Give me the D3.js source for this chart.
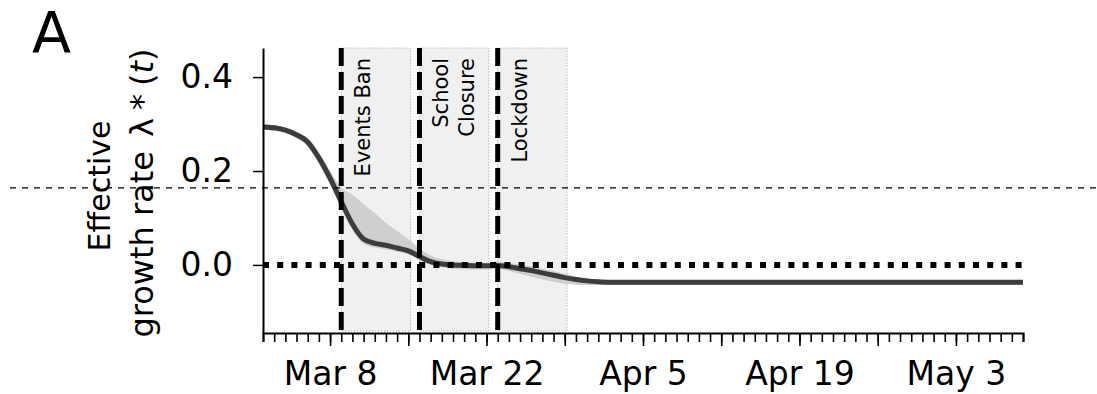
<!DOCTYPE html>
<html>
<head>
<meta charset="utf-8">
<script src="https://cdn.jsdelivr.net/npm/d3@7"></script>
<style>
  body { margin: 0; background: #fff; }
  svg { display: block; font-family: "DejaVu Sans", sans-serif; }
</style>
</head>
<body>
<div id="chart"></div>
<script>
const svgWidth = 1097;
const svgHeight = 394;

// daily series, first value is Mar 2 2020
const startDate = "2020-03-02";
const endDate = "2020-05-09";

const growthMedian = [
  0.294, 0.292, 0.287, 0.277, 0.262, 0.228, 0.185, 0.135, 0.087, 0.055,
  0.046, 0.042, 0.036, 0.030, 0.018, 0.007, 0.002, 0.000, -0.001, -0.002,
  -0.002, -0.001, -0.004, -0.008, -0.012, -0.017, -0.022, -0.027, -0.031, -0.034,
  -0.036, -0.037, -0.037, -0.037, -0.037, -0.037, -0.037, -0.037, -0.037, -0.037,
  -0.037, -0.037, -0.037, -0.037, -0.037, -0.037, -0.037, -0.037, -0.037, -0.037,
  -0.037, -0.037, -0.037, -0.037, -0.037, -0.037, -0.037, -0.037, -0.037, -0.037,
  -0.037, -0.037, -0.037, -0.037, -0.037, -0.037, -0.037, -0.037, -0.037
];
const growthLow = [
  0.288, 0.286, 0.281, 0.270, 0.252, 0.215, 0.170, 0.120, 0.075, 0.045,
  0.037, 0.033, 0.028, 0.022, 0.010, 0.000, -0.005, -0.008, -0.009, -0.010,
  -0.010, -0.008, -0.013, -0.019, -0.025, -0.031, -0.036, -0.040, -0.042, -0.043,
  -0.043, -0.042, -0.042, -0.042, -0.042, -0.042, -0.042, -0.042, -0.042, -0.042,
  -0.042, -0.042, -0.042, -0.042, -0.042, -0.042, -0.042, -0.042, -0.042, -0.042,
  -0.042, -0.042, -0.042, -0.042, -0.042, -0.042, -0.042, -0.042, -0.042, -0.042,
  -0.042, -0.042, -0.042, -0.042, -0.042, -0.042, -0.042, -0.042, -0.042
];
const growthHigh = [
  0.300, 0.298, 0.293, 0.284, 0.270, 0.240, 0.200, 0.165, 0.150, 0.130,
  0.110, 0.090, 0.072, 0.055, 0.035, 0.020, 0.012, 0.008, 0.006, 0.005,
  0.005, 0.008, 0.004, 0.001, -0.003, -0.008, -0.013, -0.019, -0.025, -0.029,
  -0.032, -0.033, -0.033, -0.033, -0.033, -0.033, -0.033, -0.033, -0.033, -0.033,
  -0.033, -0.033, -0.033, -0.033, -0.033, -0.033, -0.033, -0.033, -0.033, -0.033,
  -0.033, -0.033, -0.033, -0.033, -0.033, -0.033, -0.033, -0.033, -0.033, -0.033,
  -0.033, -0.033, -0.033, -0.033, -0.033, -0.033, -0.033, -0.033, -0.033
];

const yTicks = [0.0, 0.2, 0.4];
const xLabelDates = ["2020-03-08", "2020-03-22", "2020-04-05", "2020-04-19", "2020-05-03"];

const interventionNames = [["Events Ban"], ["School", "Closure"], ["Lockdown"]];
const interventionDates = ["2020-03-09", "2020-03-16", "2020-03-23"];
const interventionEnds = ["2020-03-15T05:00", "2020-03-22T05:00", "2020-03-29T05:00"];

const refLineValue = 0.164; // thin dashed line across the whole figure

const parseDay = d3.timeParse("%Y-%m-%d");
const parseTime = d3.timeParse("%Y-%m-%dT%H:%M");
const fmt = d3.timeFormat("%b %-d");

const day0 = parseDay(startDate);
const data = growthMedian.map((v, i) => ({
  date: d3.timeDay.offset(day0, i),
  mid: v,
  lo: growthLow[i],
  hi: growthHigh[i]
}));

const plot = {left: 263, right: 1023, top: 48, bottom: 333};

const x = d3.scaleTime()
  .domain([day0, parseDay(endDate)])
  .range([plot.left, plot.right]);

const y = d3.scaleLinear()
  .domain([-0.145, 0.462])
  .range([plot.bottom, plot.top]);

const svg = d3.select("#chart")
  .append("svg")
  .attr("width", svgWidth)
  .attr("height", svgHeight);

// intervention windows
const iv = interventionDates.map((d, i) => ({
  start: parseDay(d),
  end: parseTime(interventionEnds[i]),
  name: interventionNames[i]
}));

svg.selectAll(".shade")
  .data(iv)
  .enter().append("rect")
  .attr("class", "shade")
  .attr("x", d => x(d.start))
  .attr("y", plot.top)
  .attr("width", d => x(d.end) - x(d.start))
  .attr("height", plot.bottom - plot.top - 2)
  .attr("fill", "#f0f0f0")
  .attr("stroke", "#888")
  .attr("stroke-width", 0.8)
  .attr("stroke-dasharray", "1,2");

// credible band + median
svg.append("path")
  .datum(data)
  .attr("fill", "#cfcfcf")
  .attr("d", d3.area()
    .x(d => x(d.date))
    .y0(d => y(d.lo))
    .y1(d => y(d.hi))
    .curve(d3.curveMonotoneX));

svg.append("path")
  .datum(data)
  .attr("fill", "none")
  .attr("stroke", "#3c3c3c")
  .attr("stroke-width", 5)
  .attr("d", d3.line()
    .x(d => x(d.date))
    .y(d => y(d.mid))
    .curve(d3.curveMonotoneX));

// zero line
svg.append("line")
  .attr("x1", plot.left)
  .attr("x2", plot.right)
  .attr("y1", y(0))
  .attr("y2", y(0))
  .attr("stroke", "#000")
  .attr("stroke-width", 6)
  .attr("stroke-dasharray", "6,8.2");

// intervention lines
svg.selectAll(".ivline")
  .data(iv)
  .enter().append("line")
  .attr("x1", d => x(d.start))
  .attr("x2", d => x(d.start))
  .attr("y1", plot.top)
  .attr("y2", plot.bottom)
  .attr("stroke", "#000")
  .attr("stroke-width", 5)
  .attr("stroke-dasharray", "18,6");

iv.forEach(d => {
  d.name.forEach((line, k) => {
    const tx = x(d.start) + 29 + k * 26;
    svg.append("text")
      .attr("transform", "translate(" + tx + "," + 58 + ") rotate(-90)")
      .attr("text-anchor", "end")
      .attr("font-size", 21)
      .text(line);
  });
});

// axes
const dayTicks = d3.timeDay.range(day0, d3.timeDay.offset(parseDay(endDate), 1));
const weekTicks = d3.timeSunday.range(day0, d3.timeDay.offset(parseDay(endDate), 1));
const labelSet = new Set(xLabelDates);

svg.append("g")
  .attr("transform", "translate(0," + plot.bottom + ")")
  .call(d3.axisBottom(x).tickValues(dayTicks).tickSize(9).tickFormat(""))
  .call(g => g.selectAll(".tick line").attr("stroke-width", 1.6))
  .call(g => g.select(".domain").attr("stroke-width", 2));

svg.append("g")
  .attr("transform", "translate(0," + plot.bottom + ")")
  .call(d3.axisBottom(x).tickValues(weekTicks).tickSize(13).tickPadding(15.6)
    .tickFormat(d => labelSet.has(d3.timeFormat("%Y-%m-%d")(d)) ? fmt(d) : ""))
  .call(g => g.select(".domain").remove())
  .call(g => g.selectAll(".tick line").attr("stroke-width", 1.6))
  .call(g => g.selectAll("text").attr("font-size", 33).attr("fill", "#000")
    .attr("font-family", "DejaVu Sans"));

svg.append("g")
  .attr("transform", "translate(" + plot.left + ",0)")
  .call(d3.axisLeft(y).tickValues(yTicks).tickSize(10).tickSizeOuter(0).tickPadding(20)
    .tickFormat(d3.format(".1f")))
  .call(g => g.select(".domain").attr("stroke-width", 2))
  .call(g => g.selectAll(".tick line").attr("stroke-width", 1.5))
  .call(g => g.selectAll("text").attr("font-size", 33).attr("fill", "#000")
    .attr("font-family", "DejaVu Sans"));

// y label
svg.append("text")
  .attr("transform", "translate(110,186) rotate(-90)")
  .attr("text-anchor", "middle")
  .attr("font-size", 30)
  .text("Effective");

const yl2 = svg.append("text")
  .attr("transform", "translate(153,193) rotate(-90)")
  .attr("text-anchor", "middle")
  .attr("font-size", 32);
yl2.append("tspan").text("growth rate ");
yl2.append("tspan").attr("dx", 4).text("λ");
yl2.append("tspan").attr("dx", 8).text("*");
yl2.append("tspan").attr("dx", 8).text("(");
yl2.append("tspan").attr("font-style", "italic").text("t");
yl2.append("tspan").text(")");

// panel letter
svg.append("text")
  .attr("x", 32)
  .attr("y", 53)
  .attr("font-size", 57)
  .text("A");

// thin dashed line across the page
svg.append("line")
  .attr("x1", 10)
  .attr("x2", svgWidth)
  .attr("y1", y(refLineValue))
  .attr("y2", y(refLineValue))
  .attr("stroke", "#000")
  .attr("stroke-width", 1.2)
  .attr("stroke-dasharray", "6,6");
</script>
</body>
</html>
